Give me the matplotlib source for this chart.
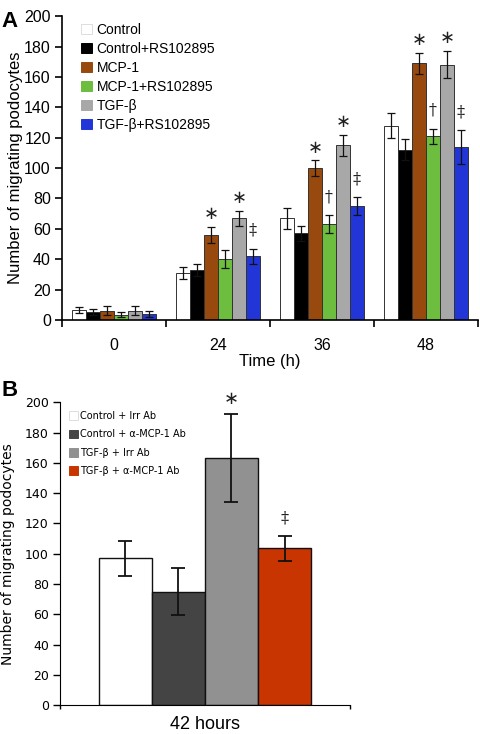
"""Recreate the two-panel podocyte migration bar chart."""

import numpy as np
import matplotlib.pyplot as plt
from matplotlib.patches import Patch

# ---- panel A data ----
times = ['0', '24', '36', '48']
series_a = ['Control', 'Control+RS102895', 'MCP-1', 'MCP-1+RS102895',
            'TGF-β', 'TGF-β+RS102895']
colors_a = ['#ffffff', '#000000', '#984a0e', '#6dbd3e', '#a8a8a8', '#2236d8']
means_a = [
    [6.5, 31, 67, 128],
    [5.5, 33, 57, 112],
    [6, 56, 100, 169],
    [3.5, 40, 63, 121],
    [6, 67, 115, 168],
    [4, 42, 75, 114],
]
errs_a = [
    [2, 4, 7, 8],
    [2, 4, 5, 7],
    [3, 5, 5, 7],
    [1.5, 6, 6, 5],
    [3, 5, 7, 9],
    [2, 5, 6, 11],
]
# (time index, series index, symbol)
marks_a = [
    (1, 2, '∗'), (1, 4, '∗'), (1, 5, '‡'),
    (2, 2, '∗'), (2, 4, '∗'), (2, 3, '†'), (2, 5, '‡'),
    (3, 2, '∗'), (3, 4, '∗'), (3, 3, '†'), (3, 5, '‡'),
]

# ---- panel B data ----
series_b = ['Control + Irr Ab', 'Control + α-MCP-1 Ab', 'TGF-β + Irr Ab',
            'TGF-β + α-MCP-1 Ab']
colors_b = ['#ffffff', '#444444', '#919191', '#c83500']
means_b = [97, 75, 163, 103.5]
errs_b = [11.5, 15.5, 29, 8.3]
marks_b = [(2, '∗'), (3, '‡')]

plt.rcParams['font.family'] = ['Liberation Sans', 'DejaVu Sans']

fig = plt.figure(figsize=(4.8, 7.34), dpi=100)

# ================= panel A =================
ax = fig.add_axes([0.129, 0.564, 0.867, 0.414])
n = len(series_a)
w = 0.134
x = np.arange(len(times))
for i in range(n):
    pos = x + (i - (n - 1) / 2) * w
    ax.bar(pos, means_a[i], w, color=colors_a[i], edgecolor='#333333',
           linewidth=0.7, label=series_a[i], zorder=2)
    ax.errorbar(pos, means_a[i], yerr=errs_a[i], fmt='none', ecolor='#111111',
                elinewidth=0.9, capsize=3, capthick=0.9, zorder=3)

for t, s, sym in marks_a:
    pos = t + (s - (n - 1) / 2) * w
    top = means_a[s][t] + errs_a[s][t]
    if sym == '∗':
        ax.text(pos, top + 8.5, sym, ha='center', va='center', fontsize=13,
                family='DejaVu Sans', color='#222222')
    else:
        ax.text(pos, top + 12, sym, ha='center', va='center', fontsize=11.5,
                family='DejaVu Serif', color='#222222')

ax.set_xlim(-0.5, len(times) - 0.5)
ax.set_ylim(0, 200)
ax.set_yticks(np.arange(0, 201, 20))
ax.set_xticks(np.arange(-0.5, len(times), 1.0))
ax.set_xticklabels([])
ax.set_xticks(x, minor=True)
ax.set_xticklabels(times, minor=True)
ax.tick_params(axis='x', which='minor', length=0, pad=13, labelsize=11.5)
ax.tick_params(axis='x', which='major', direction='out', length=5, width=1.2)
ax.tick_params(axis='y', direction='out', length=5, width=1.2, labelsize=11.5,
               pad=3)
for side in ['top', 'right']:
    ax.spines[side].set_visible(False)
for side in ['left', 'bottom']:
    ax.spines[side].set_linewidth(1.2)
ax.set_xlabel('Time (h)', fontsize=12, labelpad=1)
ax.set_ylabel('Number of migrating podocytes', fontsize=12)
ax.yaxis.set_label_coords(-0.094, 0.5)

handles = [Patch(facecolor=c, edgecolor='#dddddd' if c == '#ffffff' else c,
                 linewidth=0.7) for c in colors_a]
ax.legend(handles, series_a, loc='upper left', bbox_to_anchor=(0.03, 1.0),
          frameon=False, fontsize=10, handlelength=0.75, handleheight=0.75,
          handletextpad=0.35, labelspacing=0.36, borderaxespad=0.1)

fig.text(0.004, 0.985, 'A', fontsize=16, fontweight='bold', va='top')

# ================= panel B =================
bx = fig.add_axes([0.125, 0.039, 0.604, 0.413])
wb = 0.183
xb = (np.arange(len(series_b)) - (len(series_b) - 1) / 2) * wb
bx.bar(xb, means_b, wb, color=colors_b, edgecolor='#111111', linewidth=1.0,
       zorder=2)
bx.errorbar(xb, means_b, yerr=errs_b, fmt='none', ecolor='#111111',
            elinewidth=1.3, capsize=5, capthick=1.3, zorder=3)
for i, sym in marks_b:
    top = means_b[i] + errs_b[i]
    if sym == '∗':
        bx.text(xb[i], top + 10, sym, ha='center', va='center', fontsize=13,
                family='DejaVu Sans', color='#222222', clip_on=False)
    else:
        bx.text(xb[i], top + 12, sym, ha='center', va='center', fontsize=11.5,
                family='DejaVu Serif', color='#222222')

bx.set_xlim(-0.5, 0.5)
bx.set_ylim(0, 200)
bx.set_yticks(np.arange(0, 201, 20))
bx.set_xticks([-0.5, 0.5])
bx.set_xticklabels([])
bx.set_xticks([0], minor=True)
bx.set_xticklabels(['42 hours'], minor=True)
bx.tick_params(axis='x', which='minor', length=0, pad=8, labelsize=13)
bx.tick_params(axis='x', which='major', direction='out', length=3, width=1.0)
bx.tick_params(axis='y', direction='out', length=5, width=1.0, labelsize=9,
               pad=3)
for lab in bx.get_yticklabels():
    lab.set_family('DejaVu Sans')
for side in ['top', 'right']:
    bx.spines[side].set_visible(False)
bx.set_ylabel('Number of migrating podocytes', fontsize=10,
              family='DejaVu Sans')
bx.yaxis.set_label_coords(-0.155, 0.5)

handles_b = [Patch(facecolor=c, edgecolor='#dddddd' if c == '#ffffff' else c,
                   linewidth=0.7) for c in colors_b]
leg = bx.legend(handles_b, series_b, loc='upper left',
                bbox_to_anchor=(0.01, 0.99), frameon=False,
                prop={'family': 'DejaVu Sans', 'size': 7},
                handlelength=1.0, handleheight=1.0, handletextpad=0.15,
                labelspacing=0.85, borderaxespad=0.2)

fig.text(0.004, 0.482, 'B', fontsize=16, fontweight='bold', va='top')

fig.savefig('out.png', dpi=100)
